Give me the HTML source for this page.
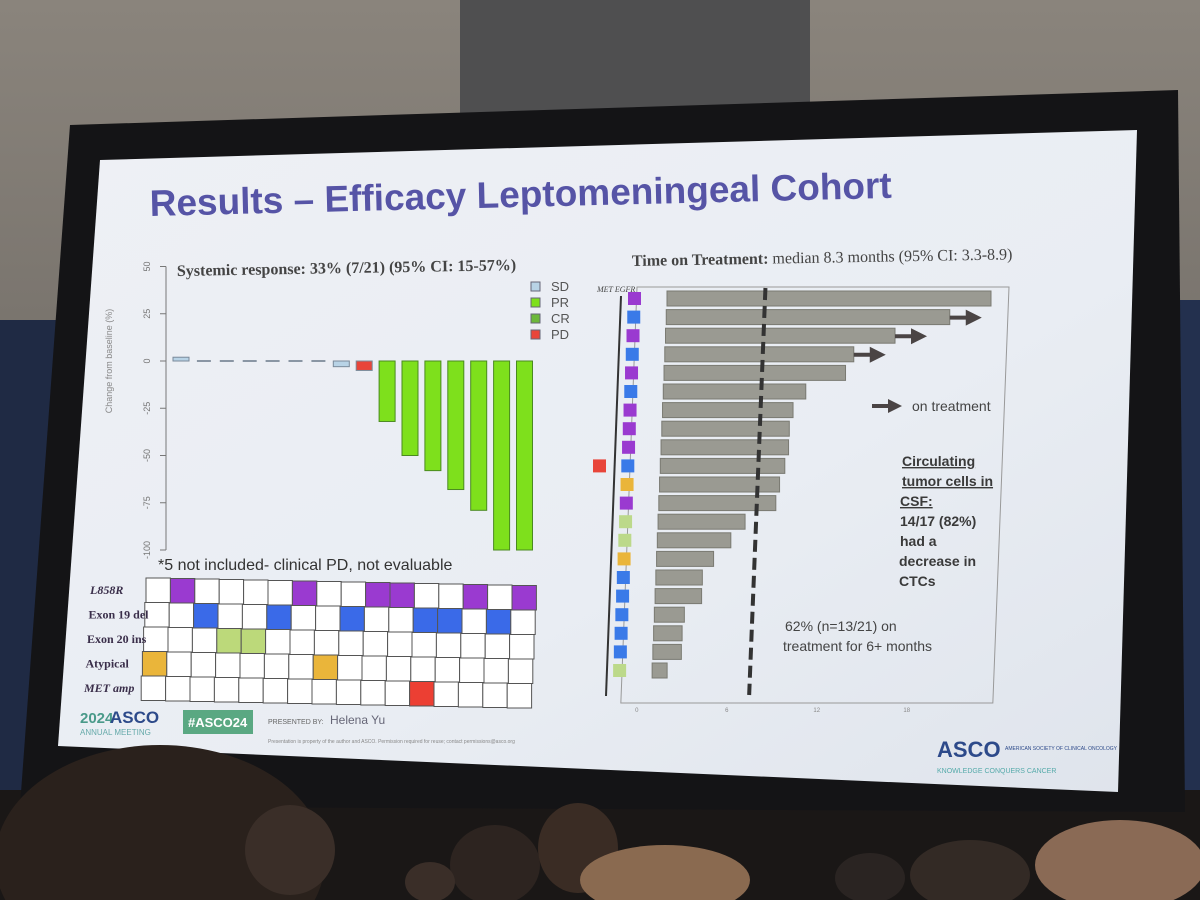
<!DOCTYPE html>
<html><head><meta charset="utf-8"><style>
html,body{margin:0;padding:0;width:1200px;height:900px;overflow:hidden;background:#3a3a3c}
svg{display:block;overflow:hidden}
</style></head><body>
<svg id="s" width="1200" height="900" viewBox="0 0 1200 900" xmlns="http://www.w3.org/2000/svg">
<defs>
<linearGradient id="ceil" x1="0" y1="0" x2="0" y2="1"><stop offset="0" stop-color="#8a847c"/><stop offset="1" stop-color="#5d5955"/></linearGradient>
<linearGradient id="slideg" x1="0" y1="0" x2="1" y2="1"><stop offset="0" stop-color="#eef0f5"/><stop offset="0.6" stop-color="#e9edf3"/><stop offset="1" stop-color="#dfe4ec"/></linearGradient>
</defs>
<rect x="0" y="0" width="1200" height="900" fill="url(#ceil)"/>
<rect x="460" y="0" width="350" height="120" fill="#4f4f50"/>
<rect x="0" y="320" width="70" height="500" fill="#1f2a44"/>
<rect x="1170" y="300" width="30" height="520" fill="#23304e"/>
<rect x="0" y="790" width="1200" height="110" fill="#1a1716"/>
<polygon points="70,125 1178,90 1185,812 20,806" fill="#141416"/>
<polygon points="100,160 1137,130 1118,792 58,746" fill="url(#slideg)"/>
<text x="150" y="216" transform="rotate(-1.4 150 216)" font-family="Liberation Sans, sans-serif" font-weight="bold" font-size="37" fill="#5654a6">Results – Efficacy Leptomeningeal Cohort</text>
<text x="177" y="276" transform="rotate(-1 177 276)" font-family="Liberation Serif, serif" font-weight="bold" font-size="16" fill="#444">Systemic response: 33% (7/21) (95% CI: 15-57%)</text>
<text x="632" y="266" transform="rotate(-1 632 266)" font-family="Liberation Serif, serif" font-size="16" fill="#444"><tspan font-weight="bold">Time on Treatment:</tspan> median 8.3 months (95% CI: 3.3-8.9)</text>
<g id="wf"></g>
<g id="hm"></g>
<g id="sw"></g>
<text x="158" y="570" font-family="Liberation Sans, sans-serif" font-size="16" fill="#333">*5 not included- clinical PD, not evaluable</text>
<g font-family="Liberation Sans, sans-serif" fill="#444">
<polygon points="872,404 888,404 888,399 902,406 888,413 888,408 872,408" fill="#4a4444"/>
<text x="912" y="411" font-size="14">on treatment</text>
<g font-size="14" font-weight="bold" fill="#3a3a3a">
<text x="902" y="466" text-decoration="underline">Circulating</text>
<text x="902" y="486" text-decoration="underline">tumor cells in</text>
<text x="900" y="506" text-decoration="underline">CSF:</text>
<text x="900" y="526">14/17 (82%)</text>
<text x="900" y="546">had a</text>
<text x="899" y="566">decrease in</text>
<text x="899" y="586">CTCs</text>
</g>
<text x="785" y="631" font-size="14">62% (n=13/21) on</text>
<text x="783" y="651" font-size="14">treatment for 6+ months</text>
</g>
<g font-family="Liberation Sans, sans-serif">
<text x="80" y="723" font-size="15" fill="#4a9a8a" font-weight="bold">2024</text>
<text x="110" y="723" font-size="17" fill="#2d4a8a" font-weight="bold">ASCO</text>
<text x="80" y="735" font-size="8" fill="#6aa">ANNUAL MEETING</text>
<rect x="183" y="710" width="70" height="24" fill="#5aa882"/>
<text x="188" y="727" font-size="13" fill="#fff" font-weight="bold">#ASCO24</text>
<text x="268" y="724" font-size="7" fill="#666">PRESENTED BY:</text>
<text x="330" y="724" font-size="12" fill="#667">Helena Yu</text>
<text x="268" y="743" font-size="5" fill="#888">Presentation is property of the author and ASCO. Permission required for reuse; contact permissions@asco.org</text>
<text x="937" y="757" font-size="22" fill="#2d4a8a" font-weight="bold">ASCO</text>
<text x="1005" y="750" font-size="5" fill="#2d4a8a">AMERICAN SOCIETY OF CLINICAL ONCOLOGY</text>
<text x="937" y="773" font-size="7" fill="#5aa">KNOWLEDGE CONQUERS CANCER</text>
</g>
<g>
<ellipse cx="160" cy="860" rx="165" ry="115" fill="#2a211c"/>
<ellipse cx="290" cy="850" rx="45" ry="45" fill="#3a2e28"/>
<ellipse cx="495" cy="865" rx="45" ry="40" fill="#2d2420"/>
<ellipse cx="430" cy="882" rx="25" ry="20" fill="#3a2e28"/>
<ellipse cx="578" cy="848" rx="40" ry="45" fill="#3a2c24"/>
<ellipse cx="665" cy="880" rx="85" ry="35" fill="#8a6a50"/>
<ellipse cx="870" cy="878" rx="35" ry="25" fill="#2a2422"/>
<ellipse cx="970" cy="875" rx="60" ry="35" fill="#332a25"/>
<ellipse cx="1120" cy="865" rx="85" ry="45" fill="#8a6a55"/>
</g>
</svg>
<script>
// Waterfall data
const wfCats = ['p1','p2','p3','p4','p5','p6','p7','p8','p9','p10','p11','p12','p13','p14','p15','p16'];
const wfValues = [2,0,0,0,0,0,0,-3,-5,-32,-50,-58,-68,-79,-100,-100];
const wfResp = ['SD','SD','SD','SD','SD','SD','SD','SD','PD','PR','PR','PR','PR','PR','PR','PR'];
const wfTicks = [50,25,0,-25,-50,-75,-100];
const wfLegend = ['SD','PR','CR','PD'];
// Heatmap data
const hmRows = ['L858R','Exon 19 del','Exon 20 ins','Atypical','MET amp'];
const hmCells = [
 [0,1,0,0,0,0,1,0,0,1,1,0,0,1,0,1],
 [0,0,2,0,0,2,0,0,2,0,0,2,2,0,2,0],
 [0,0,0,3,3,0,0,0,0,0,0,0,0,0,0,0],
 [4,0,0,0,0,0,0,4,0,0,0,0,0,0,0,0],
 [0,0,0,0,0,0,0,0,0,0,0,5,0,0,0,0]];
// Swimmer data
const swMonths = [21.6,18.9,15.3,12.6,12.1,9.5,8.7,8.5,8.5,8.3,8.0,7.8,5.8,4.9,3.8,3.1,3.1,2.0,1.9,1.9,1.0];
const swOngoing = [0,1,1,1,0,0,0,0,0,0,0,0,0,0,0,0,0,0,0,0,0];
const swEgfr = ['L','D','L','D','L','D','L','L','L','D','A','L','I','I','A','D','D','D','D','D','I'];
const swMet = [0,0,0,0,0,0,0,0,0,1,0,0,0,0,0,0,0,0,0,0,0];
const swTicks = [0,6,12,18];
const swMedianLine = 6;

const NS='http://www.w3.org/2000/svg';
function mk(p,tag,at){const e=document.createElementNS(NS,tag);for(const k in at)e.setAttribute(k,at[k]);p.appendChild(e);return e;}
const colR={SD:'#b8d3e6',PR:'#7ee01c',CR:'#6cb83a',PD:'#e8453a'};
const mutCol=['#ffffff','#9a3ad0','#3a6ae8','#bcd97a','#eab53a','#ec3f33'];
const egCol={L:'#9a3ad0',D:'#3a7ae8',A:'#eab53a',I:'#bcd98a'};

// waterfall
const wf=document.getElementById('wf');
const y0=361, ys=1.89;
const wy=v=>y0-v*ys;
const wx=i=>181+i*22.9;
mk(wf,'line',{x1:166,y1:wy(50),x2:166,y2:wy(-100),stroke:'#777','stroke-width':1});
wfTicks.forEach(t=>{
 const l=mk(wf,'line',{x1:160,y1:wy(t),x2:166,y2:wy(t),stroke:'#777'});
 
 
 const tx=mk(wf,'text',{x:150,y:wy(t),'font-size':9,fill:'#777','font-family':'Liberation Sans, sans-serif','text-anchor':'middle',transform:`rotate(-90 150 ${wy(t)})`});
 tx.textContent=t;
 
 
});
const yt=mk(wf,'text',{x:112,y:361,'font-size':9,fill:'#888','font-family':'Liberation Sans, sans-serif','text-anchor':'middle',transform:'rotate(-90 112 361)'});
yt.textContent='Change from baseline (%)';


wfValues.forEach((v,i)=>{
 const r=wfResp[i];
 let top=Math.min(wy(v),y0), h=Math.abs(wy(v)-y0);
 let b;
 if(h<1){b=mk(wf,'line',{x1:wx(i)-7,y1:y0,x2:wx(i)+7,y2:y0,stroke:'#8a96a4','stroke-width':2});}
 else b=mk(wf,'rect',{x:wx(i)-8,y:top,width:16,height:h,fill:colR[r],stroke:r==='PR'?'#4a8a20':'#7a8a9a','stroke-width':1});
 
 
});
wfLegend.forEach((k,i)=>{
 const y=290+i*16;
 const r=mk(wf,'rect',{x:531,y:y-8,width:9,height:9,fill:colR[k],stroke:'#667'});
 
 
 const t=mk(wf,'text',{x:551,y:y+1,'font-size':13,fill:'#555','font-family':'Liberation Sans, sans-serif'});
 t.textContent=k;
 
 
});

// heatmap
const hm=document.getElementById('hm');
const hx=(c,r)=>146+c*24.4-r*1.2, hy=(c,r)=>578+r*24.5+c*0.5;
hmCells.forEach((row,r)=>{
 row.forEach((v,c)=>{
  const e=mk(hm,'rect',{x:hx(c,r),y:hy(c,r),width:24.4,height:24.5,fill:mutCol[v],stroke:'#555','stroke-width':1});
  
  
 });
 const t=mk(hm,'text',{x:90-r*1.5,y:hy(0,r)+16,'font-size':12,'font-weight':'bold',fill:'#3a2e4a','font-family':'Liberation Serif, serif','font-style':(r===0||r===4)?'italic':'normal'});
 t.textContent=hmRows[r];
 
 
});

// swimmer
const sw=document.getElementById('sw');
const rowY=i=>299+i*18.6;
const sk=y=>-(y-299)*0.04;
const mx=(m,y)=>670+m*15+sk(y);
mk(sw,'polygon',{points:`${637},287 1009,287 ${1009+sk(703)},703 ${637+sk(703)},703`,fill:'none',stroke:'#999','stroke-width':1});
swTicks.forEach(t=>{
 const tx=mk(sw,'text',{x:mx(t,705)-17,y:712,'font-size':6,fill:'#888','font-family':'Liberation Sans, sans-serif','text-anchor':'middle'});
 tx.textContent=t;
 
 
});
mk(sw,'line',{x1:621,y1:296,x2:606,y2:696,stroke:'#333','stroke-width':2});
const mt1=mk(sw,'text',{x:597,y:292,'font-size':8,'font-style':'italic',fill:'#444','font-family':'Liberation Serif, serif'});mt1.textContent='MET EGFR';


swMonths.forEach((m,i)=>{
 const y=rowY(i);
 const b=mk(sw,'rect',{x:mx(0,y)-3,y:y-8,width:m*15,height:15,fill:'#9a9a92',stroke:'#7a7a72'});
 
 
 if(swOngoing[i]){
  const e=mx(m,y)-3;
  const a=mk(sw,'polygon',{points:`${e},${y-2} ${e+16},${y-2} ${e+16},${y-8} ${e+32},${y} ${e+16},${y+8} ${e+16},${y+2} ${e},${y+2}`,fill:'#4a4444'});
  
  
 }
 const sq=mk(sw,'rect',{x:633+sk(y)-5,y:y-7,width:13,height:13,fill:egCol[swEgfr[i]]});
 
 
 if(swMet[i]){
  const q=mk(sw,'rect',{x:593,y:y-7,width:13,height:13,fill:'#e8453a'});
  
  
 }
});
const dl=mk(sw,'line',{x1:mx(swMedianLine,288)+5,y1:288,x2:mx(swMedianLine,695)+5,y2:695,stroke:'#333','stroke-width':4,'stroke-dasharray':'12,6'});


</script>
</body></html>
